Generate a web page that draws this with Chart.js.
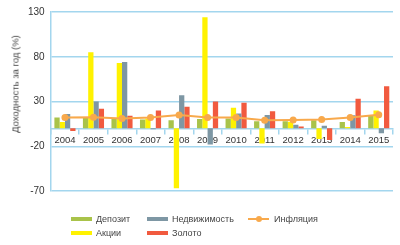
<!DOCTYPE html>
<html>
<head>
<meta charset="utf-8">
<script src="https://cdn.jsdelivr.net/npm/chart.js@4"></script>
<style>
  body { margin: 0; background: #fff; font-family: "Liberation Sans", Arial, sans-serif; }
  #wrap { position: relative; width: 400px; height: 245px; }
  #yTitle {
    position: absolute; left: 15px; top: 84px; transform: translate(-50%, -50%) rotate(-90deg);
    font-size: 9.5px; color: #444; white-space: nowrap;
  }
  .leg { position: absolute; font-size: 9px; color: #444; display: flex; align-items: center; }
  .sw { width: 21px; height: 4px; margin-right: 4px; }
  .ln { position: relative; width: 21px; height: 2px; margin-right: 5px; }
  .ln i { position: absolute; left: 8px; top: -2px; width: 6px; height: 6px; border-radius: 50%; }
</style>
</head>
<body>
<div id="wrap">
  <canvas id="chart" width="400" height="245"></canvas>
  <div id="yTitle">Доходность за год (%)</div>
  <div id="legend"></div>
</div>
<script>
// data
const years = ["2004", "2005", "2006", "2007", "2008", "2009", "2010", "2011", "2012", "2013", "2014", "2015"];
const deposit = [12, 12, 11, 10, 9, 10.5, 11, 8, 8, 9, 7, 14.5];
const stocks = [7, 85, 73, 11, -67, 124, 23, -17, 7.5, -12, 1.5, 20];
const realty = [16, 30, 74, -1, 37, -18, 16.5, 15, 4, 3, 14.5, -5.5];
const gold = [-3, 22, 14, 20, 24, 30, 28.5, 19, 2, -13, 33, 47];
const inflation = [12, 12.5, 11, 12, 15, 12, 12, 9, 9.4, 10, 12.2, 15.2];
const yTicks = [-70, -20, 30, 80, 130];

const colors = {
  deposit: "#a9c34a",
  stocks: "#fff200",
  realty: "#7e97a4",
  gold: "#f15a3f",
  inflation: "#f8a94c",
  grid: "#a3d6ee"
};

const barOpts = { categoryPercentage: 0.74, barPercentage: 1.0, order: 1, borderWidth: 0 };

new Chart(document.getElementById("chart"), {
  data: {
    labels: years,
    datasets: [
      { type: "line", label: "Инфляция", data: inflation, borderColor: colors.inflation,
        backgroundColor: colors.inflation, borderWidth: 2, pointRadius: 2.5, order: 0 },
      { type: "bar", label: "Депозит", data: deposit, backgroundColor: colors.deposit, ...barOpts },
      { type: "bar", label: "Акции", data: stocks, backgroundColor: colors.stocks, ...barOpts },
      { type: "bar", label: "Недвижимость", data: realty, backgroundColor: colors.realty, ...barOpts },
      { type: "bar", label: "Золото", data: gold, backgroundColor: colors.gold, ...barOpts }
    ]
  },
  options: {
    responsive: false,
    animation: false,
    layout: { padding: { left: 22, right: 7, top: 8, bottom: 54 } },
    plugins: { legend: { display: false }, tooltip: { enabled: false } },
    scales: {
      x: {
        position: { y: 0 },
        grid: { offset: true, drawOnChartArea: false, drawTicks: true, tickLength: 5, color: colors.grid, lineWidth: 1.5 },
        border: { color: colors.grid, width: 1.5 },
        ticks: { color: "#333", font: { family: "Liberation Sans", size: 9.5 }, padding: 1, maxRotation: 0 }
      },
      y: {
        min: -70, max: 130,
        afterBuildTicks: axis => { axis.ticks = yTicks.map(v => ({ value: v })); },
        grid: { color: colors.grid, lineWidth: 1.5, drawTicks: false },
        border: { color: colors.grid, width: 1.5 },
        ticks: { color: "#333", font: { family: "Liberation Sans", size: 10 }, padding: 6 }
      }
    }
  }
});

// legend (two rows, as in the original layout)
const legendItems = [
  { label: "Депозит", color: colors.deposit, x: 71, y: 220 },
  { label: "Недвижимость", color: colors.realty, x: 147, y: 220 },
  { label: "Инфляция", color: colors.inflation, x: 248, y: 220, line: true },
  { label: "Акции", color: colors.stocks, x: 71, y: 234 },
  { label: "Золото", color: colors.gold, x: 147, y: 234 }
];
const legend = document.getElementById("legend");
legendItems.forEach(it => {
  const d = document.createElement("div");
  d.className = "leg";
  d.style.left = it.x + "px";
  d.style.top = (it.y - 6) + "px";
  d.innerHTML = it.line
    ? `<span class="ln" style="background:${it.color}"><i style="background:${it.color}"></i></span>${it.label}`
    : `<span class="sw" style="background:${it.color}"></span>${it.label}`;
  legend.appendChild(d);
});
</script>
</body>
</html>
